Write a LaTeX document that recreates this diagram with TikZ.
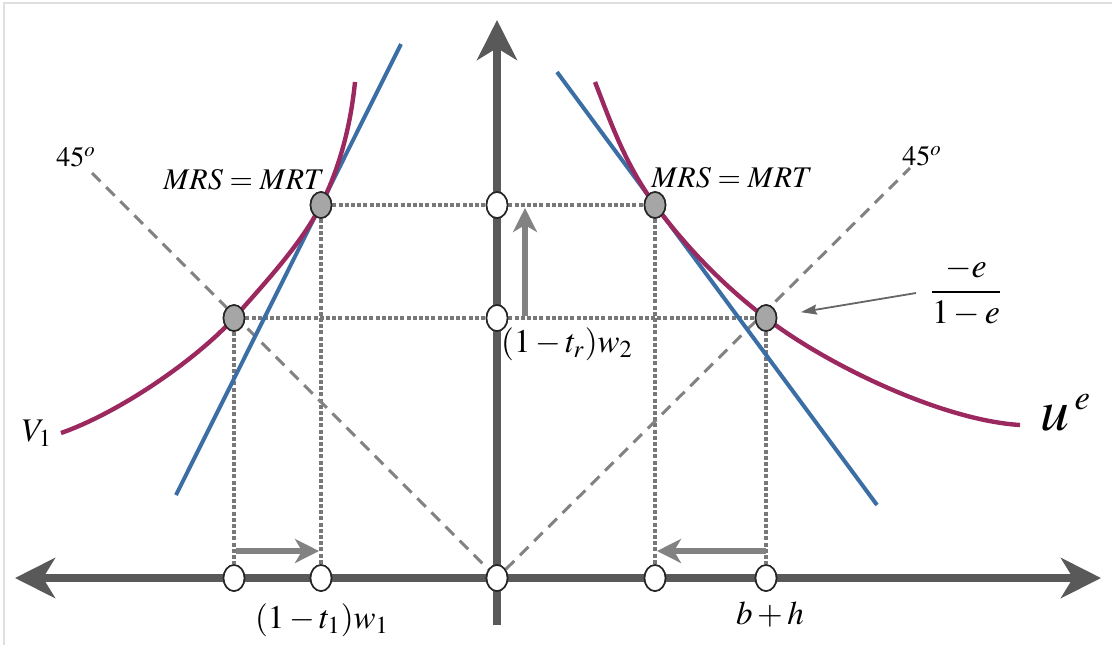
\documentclass[tikz,border=0pt]{standalone}
\usepackage{amsmath}
\usepackage{mathptmx}
\usetikzlibrary{arrows.meta, positioning, shapes.geometric}

\definecolor{axisgray}{RGB}{89,89,89}
\definecolor{linegray}{RGB}{130,130,130}
\definecolor{guidegray}{RGB}{120,120,120}
\definecolor{ptgray}{RGB}{166,166,166}
\definecolor{curvepurple}{RGB}{155,40,95}
\definecolor{lineblue}{RGB}{58,110,165}

\newcommand{\fs}[1]{\fontsize{#1}{#1}\selectfont}

\begin{document}
\begin{tikzpicture}[
  x=0.5pt, y=-0.5pt,
  every node/.style={font=\fs{15}},
  mainaxis/.style={axisgray, line width=3.8pt, >={Stealth[length=20pt, width=20pt, inset=6pt]}},
  guide/.style={guidegray, line width=1.8pt, dash pattern=on 2pt off 1.1pt},
  diag/.style={linegray, line width=1.5pt, dash pattern=on 6pt off 4pt},
  budget/.style={lineblue, line width=2pt},
  indiff/.style={curvepurple, line width=2.2pt},
  move/.style={linegray, line width=2.6pt, -{Stealth[length=12pt, width=12pt, inset=3.5pt]}},
  pointer/.style={black!60, line width=0.9pt, -{Stealth[length=8pt, width=5pt, inset=1pt]}},
  axpt/.style={ellipse, draw=black!85, line width=0.8pt, fill=white,
               minimum width=10.5pt, minimum height=13pt, inner sep=0pt},
  tanpt/.style={axpt, fill=ptgray},
]
\useasboundingbox (0,0) rectangle (1112,645);
\draw[gray!25, line width=0.6pt] (4,645) -- (4,3) -- (1112,3);

% axes
\coordinate (xmin) at (15,578);
\coordinate (xmax) at (1101,578);
\coordinate (ymin) at (497,625);
\coordinate (ymax) at (497,20);
\draw[mainaxis, <->] (xmin) -- (xmax);
\draw[mainaxis, ->] (ymin) -- (ymax);

% points
\node[axpt]  (orig)   at (497,578) {};
\node[axpt]  (xL1)    at (234,578) {};
\node[axpt]  (xL2)    at (321,578) {};
\node[axpt]  (xR1)    at (655,578) {};
\node[axpt]  (xR2)    at (766,578) {};
\node[axpt]  (yHi)    at (497,205) {};
\node[axpt]  (yLo)    at (497,318) {};
\node[tanpt] (tanL)   at (321,205) {};
\node[tanpt] (crossL) at (234,318) {};
\node[tanpt] (tanR)   at (655,205) {};
\node[tanpt] (crossR) at (766,318) {};

% dotted guides
\draw[guide] (tanL) -- (yHi) -- (tanR);
\draw[guide] (crossL) -- (yLo) -- (crossR);
\draw[guide] (tanL) -- (xL2);
\draw[guide] (crossL) -- (xL1);
\draw[guide] (tanR) -- (xR1);
\draw[guide] (crossR) -- (xR2);

% 45 degree lines
\coordinate (d45L) at (92,173);
\coordinate (d45R) at (910,168);
\draw[diag] (d45L) -- (orig);
\draw[diag] (orig) -- (d45R);
\node (degL) at (76,157) {\fs{14}$45^{o}$};
\node (degR) at (922,156) {\fs{14}$45^{o}$};

% budget lines
\coordinate (bLtop) at (401,44);
\coordinate (bLbot) at (176,495);
\coordinate (bRtop) at (557,72);
\coordinate (bRbot) at (877,505);
\draw[budget] (bLbot) -- (bLtop);
\draw[budget] (bRtop) -- (bRbot);

% indifference curves
\coordinate (vEnd) at (61,433);
\coordinate (vTop) at (355,82);
\coordinate (uTop) at (595,82);
\coordinate (uEnd) at (1020,425);
\draw[indiff] (vEnd) .. controls (121,412) and (198,358) .. (crossL.center)
  .. controls (265,283) and (302,243) .. (tanL.center)
  .. controls (341,165) and (351,122) .. (vTop);
\draw[indiff] (uTop) .. controls (611,123) and (625,164) .. (tanR.center)
  .. controls (683,243) and (720,283) .. (crossR.center)
  .. controls (824,363) and (940,420) .. (uEnd);

% redraw points on top
\foreach \p in {tanL,crossL,tanR,crossR}
  \node[tanpt] at (\p) {};
\foreach \p in {orig,xL1,xL2,xR1,xR2,yHi,yLo}
  \node[axpt] at (\p) {};

% shifts
\coordinate (upS) at (525,316);
\coordinate (upE) at (525,208);
\coordinate (mvL1) at (236,551);
\coordinate (mvL2) at (319,551);
\coordinate (mvR1) at (766,551);
\coordinate (mvR2) at (657,551);
\draw[move] (upS) -- (upE);
\draw[move] (mvL1) -- (mvL2);
\draw[move] (mvR1) -- (mvR2);

% labels
\node (mrsL) at (244,180) {$MRS = MRT$};
\node (mrsR) at (732,178) {$MRS = MRT$};
\node (w2) at (567,344) {\fs{16.5}$(1-t_r)w_2$};
\node (w1) at (322,620) {\fs{16.5}$(1-t_1)w_1$};
\node (bh) at (770,614) {\fs{16.5}$b+h$};
\node (vone) at (37,433) {\fs{16.5}$V_1$};
\node (ue) at (1066,413) {\fs{29}$u^{\,\scriptscriptstyle e}$};
\node (frac) at (966,292) {\fs{17}$\dfrac{-e}{1-e}$};
\coordinate (fracarr) at (916,293);
\draw[pointer, shorten >=12pt] (fracarr) -- (crossR);
\end{tikzpicture}
\end{document}
